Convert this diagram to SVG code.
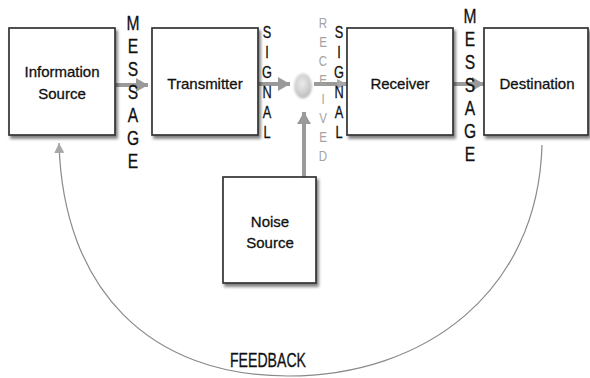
<svg xmlns="http://www.w3.org/2000/svg" width="590" height="378" viewBox="0 0 590 378">
  <defs>
    <filter id="shadow" x="-10%" y="-10%" width="130%" height="130%">
      <feDropShadow dx="2" dy="3" stdDeviation="1.5" flood-color="#000" flood-opacity="0.5"/>
    </filter>
    <filter id="soft" x="-50%" y="-50%" width="200%" height="200%">
      <feGaussianBlur stdDeviation="1.1"/>
    </filter>
    <radialGradient id="blob" cx="45%" cy="40%" r="60%">
      <stop offset="0" stop-color="#ececec"/>
      <stop offset="0.6" stop-color="#d2d2d2"/>
      <stop offset="1" stop-color="#b8b8b8"/>
    </radialGradient>
    <marker id="head" markerUnits="userSpaceOnUse" markerWidth="14" markerHeight="16" refX="12" refY="7" orient="auto">
      <path d="M0,0 L12,7 L0,14 Z" fill="#9a9a9a"/>
    </marker>
    <marker id="headSmall" markerUnits="userSpaceOnUse" markerWidth="10" markerHeight="12" refX="10" refY="5" orient="auto">
      <path d="M0,0 L10,5 L0,10 Z" fill="#a8a8a8"/>
    </marker>
  </defs>
  <style>
    .box { fill: #fff; stroke: #333; stroke-width: 1.7; }
    .lbl { font-family: "Liberation Sans", Arial, sans-serif; font-size: 15px; fill: #111; stroke: #111; stroke-width: 0.3; text-anchor: middle; }
    .vert { font-family: "Liberation Sans", Arial, sans-serif; fill: #111; stroke: #111; stroke-width: 0.3; text-anchor: middle; }
    .msg { font-size: 20px; }
    .sig { font-size: 17px; }
    .rcv { font-family: "Liberation Sans", Arial, sans-serif; font-size: 14.5px; fill: #a4a4a4; text-anchor: middle; }
    .flow { stroke: #9a9a9a; stroke-width: 4; fill: none; }
    .fb { stroke: #8a8a8a; stroke-width: 1.2; fill: none; }
  </style>

  <!-- connectors -->
  <g id="connectors">
    <line class="flow" x1="116" y1="85" x2="148" y2="85" marker-end="url(#head)"/>
    <line class="flow" x1="259" y1="84" x2="290" y2="84" marker-end="url(#head)"/>
    <line class="flow" x1="314" y1="84" x2="347" y2="84" stroke-width="3" marker-end="url(#headSmall)"/>
    <line class="flow" x1="454" y1="84" x2="484" y2="84" marker-end="url(#head)"/>
    <line class="flow" x1="304" y1="177" x2="304" y2="112" marker-end="url(#head)"/>
    <path class="fb" d="M542,145 C538,292 425,376 288,376 C150,376 63,290 59,143" marker-end="url(#headSmall)"/>
    <!-- summing point where noise joins the signal -->
    <ellipse cx="303" cy="86" rx="9" ry="12.5" fill="url(#blob)" filter="url(#soft)"/>
  </g>

  <g id="info-source">
    <rect class="box" x="9" y="28" width="106" height="107" filter="url(#shadow)"/>
    <text class="lbl" x="62" y="77">Information</text>
    <text class="lbl" x="62" y="99">Source</text>
  </g>

  <g id="transmitter">
    <rect class="box" x="152" y="28" width="106" height="107" filter="url(#shadow)"/>
    <text class="lbl" x="205" y="89">Transmitter</text>
  </g>

  <g id="receiver">
    <rect class="box" x="347" y="28" width="106" height="107" filter="url(#shadow)"/>
    <text class="lbl" x="400" y="89">Receiver</text>
  </g>

  <g id="destination">
    <rect class="box" x="484" y="28" width="104" height="107" filter="url(#shadow)"/>
    <text class="lbl" x="537" y="89">Destination</text>
  </g>

  <g id="noise-source">
    <rect class="box" x="223" y="177" width="93" height="106" filter="url(#shadow)"/>
    <text class="lbl" x="270" y="227">Noise</text>
    <text class="lbl" x="270" y="248">Source</text>
  </g>

  <!-- vertical channel labels, narrowed horizontally -->
  <g id="label-message-1" class="vert msg" transform="translate(133,0) scale(0.78,1)">
    <text x="0" y="30">M</text>
    <text x="0" y="53">E</text>
    <text x="0" y="76">S</text>
    <text x="0" y="99">S</text>
    <text x="0" y="122">A</text>
    <text x="0" y="145">G</text>
    <text x="0" y="168">E</text>
  </g>
  <g id="label-signal-1" class="vert sig" transform="translate(267,0) scale(0.75,1)">
    <text x="0" y="38">S</text>
    <text x="0" y="58">I</text>
    <text x="0" y="78">G</text>
    <text x="0" y="98">N</text>
    <text x="0" y="118">A</text>
    <text x="0" y="138">L</text>
  </g>
  <g id="label-received" class="rcv" transform="translate(323,0) scale(0.8,1)">
    <text x="0" y="28">R</text>
    <text x="0" y="47">E</text>
    <text x="0" y="66">C</text>
    <text x="0" y="85">E</text>
    <text x="0" y="104">I</text>
    <text x="0" y="123">V</text>
    <text x="0" y="142">E</text>
    <text x="0" y="161">D</text>
  </g>
  <g id="label-signal-2" class="vert sig" transform="translate(339,0) scale(0.75,1)">
    <text x="0" y="38">S</text>
    <text x="0" y="58">I</text>
    <text x="0" y="78">G</text>
    <text x="0" y="98">N</text>
    <text x="0" y="118">A</text>
    <text x="0" y="138">L</text>
  </g>
  <g id="label-message-2" class="vert msg" transform="translate(470,0) scale(0.78,1)">
    <text x="0" y="23">M</text>
    <text x="0" y="46">E</text>
    <text x="0" y="69">S</text>
    <text x="0" y="92">S</text>
    <text x="0" y="115">A</text>
    <text x="0" y="138">G</text>
    <text x="0" y="161">E</text>
  </g>

  <g id="label-feedback">
    <text x="268" y="367" font-family="Liberation Sans, Arial, sans-serif" font-size="21" fill="#111" stroke="#111" stroke-width="0.3" text-anchor="middle" textLength="76" lengthAdjust="spacingAndGlyphs">FEEDBACK</text>
  </g>
</svg>
